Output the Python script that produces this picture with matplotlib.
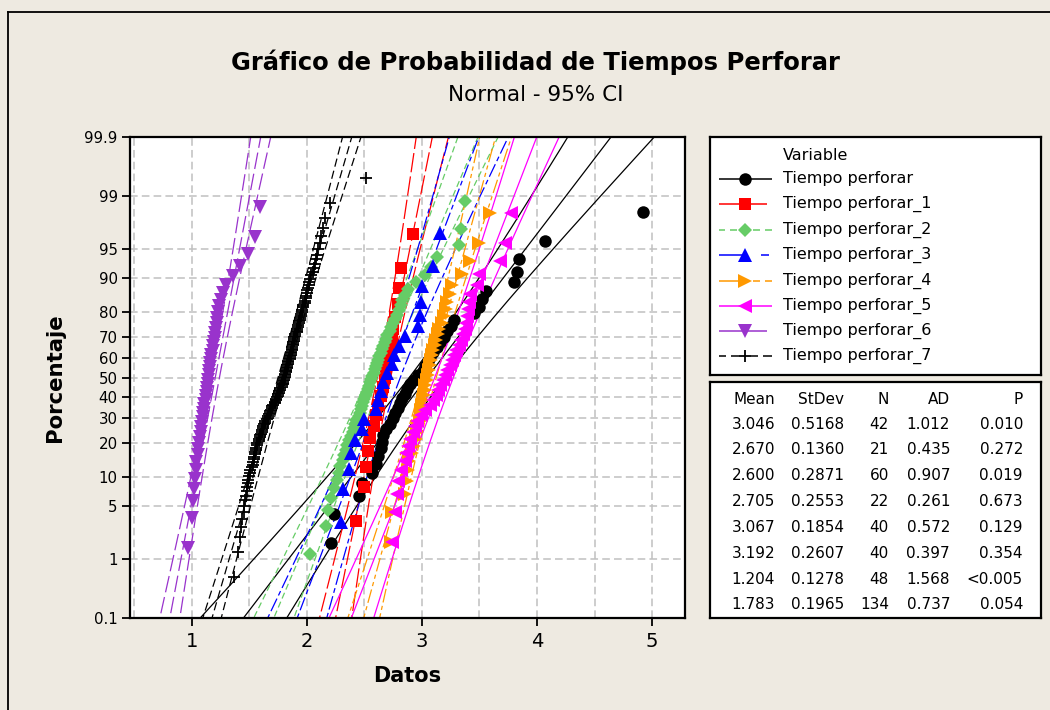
import numpy as np
import matplotlib
matplotlib.use('Agg')
import matplotlib.pyplot as plt
from matplotlib.lines import Line2D

plt.rcParams['font.family'] = ['DejaVu Sans']
plt.rcParams['lines.scale_dashes'] = False

# ---------------- data ----------------
series_names = ['Tiempo perforar', 'Tiempo perforar_1', 'Tiempo perforar_2', 'Tiempo perforar_3',
                'Tiempo perforar_4', 'Tiempo perforar_5', 'Tiempo perforar_6', 'Tiempo perforar_7']

tiempo_perforar = [2.21, 2.24, 2.45, 2.48, 2.57, 2.60, 2.62, 2.64, 2.65, 2.66,
                   2.69, 2.72, 2.75, 2.77, 2.79, 2.81, 2.83, 2.85, 2.87, 2.90,
                   2.93, 2.97, 3.01, 3.03, 3.05, 3.07, 3.10, 3.13, 3.16, 3.19,
                   3.22, 3.25, 3.28, 3.45, 3.50, 3.52, 3.56, 3.80, 3.83, 3.84,
                   4.07, 4.92]
tiempo_perforar_1 = [2.43, 2.50, 2.51, 2.53, 2.55, 2.58, 2.60, 2.62, 2.64, 2.66,
                     2.68, 2.69, 2.71, 2.73, 2.74, 2.75, 2.77, 2.79, 2.80, 2.82, 2.92]
tiempo_perforar_2 = [2.03, 2.17, 2.18, 2.21, 2.24, 2.26, 2.28, 2.29, 2.31, 2.32,
                     2.34, 2.35, 2.37, 2.38, 2.40, 2.41, 2.42, 2.43, 2.45, 2.46,
                     2.47, 2.48, 2.49, 2.50, 2.51, 2.52, 2.53, 2.54, 2.55, 2.56,
                     2.57, 2.58, 2.59, 2.60, 2.61, 2.62, 2.63, 2.64, 2.65, 2.66,
                     2.68, 2.69, 2.70, 2.72, 2.73, 2.75, 2.77, 2.78, 2.80, 2.82,
                     2.83, 2.85, 2.88, 2.95, 3.03, 3.08, 3.13, 3.32, 3.34, 3.37]
tiempo_perforar_3 = [2.30, 2.31, 2.37, 2.38, 2.42, 2.48, 2.50, 2.60, 2.62, 2.64,
                     2.66, 2.70, 2.74, 2.76, 2.80, 2.85, 2.97, 2.98, 2.99, 3.00,
                     3.10, 3.16]
tiempo_perforar_4 = [2.73, 2.74, 2.85, 2.87, 2.88, 2.89, 2.91, 2.93, 2.95, 2.96,
                     2.97, 2.98, 2.99, 2.99, 3.00, 3.01, 3.02, 3.03, 3.03, 3.04,
                     3.05, 3.06, 3.07, 3.08, 3.09, 3.10, 3.11, 3.12, 3.14, 3.15,
                     3.17, 3.19, 3.21, 3.22, 3.24, 3.26, 3.35, 3.42, 3.50, 3.59]
tiempo_perforar_5 = [2.74, 2.77, 2.78, 2.79, 2.82, 2.85, 2.86, 2.88, 2.90, 2.92,
                     2.94, 2.96, 2.99, 3.03, 3.07, 3.10, 3.12, 3.14, 3.16, 3.18,
                     3.20, 3.22, 3.24, 3.26, 3.28, 3.30, 3.32, 3.34, 3.36, 3.37,
                     3.38, 3.39, 3.40, 3.41, 3.42, 3.48, 3.50, 3.68, 3.72, 3.77]
tiempo_perforar_6 = [0.97, 1.00, 1.01, 1.02, 1.03, 1.04, 1.04, 1.05, 1.05, 1.06,
                     1.07, 1.08, 1.08, 1.09, 1.10, 1.10, 1.11, 1.11, 1.12, 1.12,
                     1.13, 1.13, 1.14, 1.14, 1.15, 1.15, 1.16, 1.16, 1.17, 1.17,
                     1.18, 1.18, 1.19, 1.20, 1.20, 1.21, 1.22, 1.22, 1.23, 1.24,
                     1.25, 1.27, 1.30, 1.36, 1.42, 1.49, 1.55, 1.59]
tiempo_perforar_7 = [1.37, 1.40, 1.42, 1.43, 1.44, 1.45, 1.45, 1.46, 1.47, 1.48,
                     1.48, 1.49, 1.49, 1.50, 1.51, 1.51, 1.52, 1.53, 1.53, 1.54,
                     1.54, 1.55, 1.55, 1.56, 1.56, 1.57, 1.57, 1.58, 1.58, 1.59,
                     1.59, 1.60, 1.61, 1.61, 1.62, 1.62, 1.63, 1.64, 1.64, 1.65,
                     1.66, 1.66, 1.67, 1.68, 1.68, 1.69, 1.70, 1.70, 1.71, 1.72,
                     1.72, 1.73, 1.73, 1.74, 1.75, 1.75, 1.76, 1.76, 1.77, 1.77,
                     1.78, 1.78, 1.79, 1.79, 1.79, 1.80, 1.80, 1.81, 1.81, 1.81,
                     1.82, 1.82, 1.82, 1.83, 1.83, 1.83, 1.84, 1.84, 1.84, 1.85,
                     1.85, 1.85, 1.86, 1.86, 1.86, 1.87, 1.87, 1.87, 1.88, 1.88,
                     1.88, 1.89, 1.89, 1.89, 1.90, 1.90, 1.91, 1.91, 1.91, 1.92,
                     1.92, 1.93, 1.93, 1.94, 1.94, 1.95, 1.95, 1.96, 1.96, 1.97,
                     1.97, 1.98, 1.98, 1.99, 1.99, 2.00, 2.00, 2.01, 2.02, 2.02,
                     2.03, 2.04, 2.05, 2.06, 2.07, 2.08, 2.09, 2.10, 2.11, 2.12,
                     2.14, 2.16, 2.20, 2.51]

# summary table (as printed in the chart)
means = [3.046, 2.670, 2.600, 2.705, 3.067, 3.192, 1.204, 1.783]
stdevs = [0.5168, 0.1360, 0.2871, 0.2553, 0.1854, 0.2607, 0.1278, 0.1965]
counts = [42, 21, 60, 22, 40, 40, 48, 134]
ad_values = [1.012, 0.435, 0.907, 0.261, 0.572, 0.397, 1.568, 0.737]
p_values = ['0.010', '0.272', '0.019', '0.673', '0.129', '0.354', '<0.005', '0.054']

percent_ticks = [0.1, 1, 5, 10, 20, 30, 40, 50, 60, 70, 80, 90, 95, 99, 99.9]
x_ticks = [1, 2, 3, 4, 5]

all_data = [tiempo_perforar, tiempo_perforar_1, tiempo_perforar_2, tiempo_perforar_3,
            tiempo_perforar_4, tiempo_perforar_5, tiempo_perforar_6, tiempo_perforar_7]

# ---------------- styles ----------------
BG = '#EEEAE1'
colors = ['#000000', '#FF0000', '#66CC66', '#0000FF', '#FF9900', '#FF00FF', '#9933CC', '#000000']
markers = ['o', 's', 'D', '^', '>', '<', 'v', '+']
msizes = [9.0, 8.0, 7.2, 9.5, 9.5, 9.5, 9.5, 8.0]
linestyles = ['-', (0, (14, 3)), (0, (4.5, 2.5)), (0, (10, 2.5, 3.5, 2.5)),
              (0, (10, 2.5, 3, 2.5, 3, 2.5)), '-', (0, (12, 3.5)), (0, (6, 3))]


def norm_ppf(p):
    p = np.atleast_1d(np.asarray(p, float))
    a = [-3.969683028665376e+01, 2.209460984245205e+02, -2.759285104469687e+02,
         1.383577518672690e+02, -3.066479806614716e+01, 2.506628277459239e+00]
    b = [-5.447609879822406e+01, 1.615858368580409e+02, -1.556989798598866e+02,
         6.680131188771972e+01, -1.328068155288572e+01]
    c = [-7.784894002430293e-03, -3.223964580411365e-01, -2.400758277161838e+00,
         -2.549732539343734e+00, 4.374664141464968e+00, 2.938163982698783e+00]
    d = [7.784695709041462e-03, 3.224671290700398e-01, 2.445134137142996e+00,
         3.754408661907416e+00]
    plow = 0.02425
    out = np.empty_like(p)
    lo = p < plow
    hi = p > 1 - plow
    mid = ~(lo | hi)
    q = np.sqrt(-2 * np.log(p[lo]))
    out[lo] = (((((c[0]*q+c[1])*q+c[2])*q+c[3])*q+c[4])*q+c[5]) / ((((d[0]*q+d[1])*q+d[2])*q+d[3])*q+1)
    q = p[mid] - 0.5
    r = q * q
    out[mid] = (((((a[0]*r+a[1])*r+a[2])*r+a[3])*r+a[4])*r+a[5])*q / (((((b[0]*r+b[1])*r+b[2])*r+b[3])*r+b[4])*r+1)
    q = np.sqrt(-2 * np.log(1 - p[hi]))
    out[hi] = -(((((c[0]*q+c[1])*q+c[2])*q+c[3])*q+c[4])*q+c[5]) / ((((d[0]*q+d[1])*q+d[2])*q+d[3])*q+1)
    return out


W, H = 1050, 710
fig = plt.figure(figsize=(W / 100, H / 100), dpi=100, facecolor=BG)


def fx(px):
    return px / W


def fy(py):
    return 1 - py / H


# main axes
ax = fig.add_axes([fx(130), fy(618), fx(685) - fx(130), fy(137) - fy(618)])
ax.set_facecolor('white')
zlim = float(norm_ppf(0.999)[0])
ax.set_xlim(0.463, 5.286)
ax.set_ylim(-zlim, zlim)

# grid
for xv in np.arange(0.5, 5.01, 0.5):
    ax.axvline(xv, color='#C0C0C0', lw=1.1, ls=(0, (5.5, 3)), zorder=0.5)
for pt in percent_ticks[1:-1]:
    ax.axhline(norm_ppf(pt / 100)[0], color='#C0C0C0', lw=1.1, ls=(0, (5.5, 3)), zorder=0.5)

# fitted lines and 95% CI
zz = np.linspace(-3.3, 3.3, 300)
for i in range(8):
    mu, sd, n = means[i], stdevs[i], counts[i]
    center = mu + zz * sd
    half = 1.96 * sd * np.sqrt((1 + zz ** 2 / 2) / n)
    for xs in (center - half, center, center + half):
        ax.plot(xs, zz, color=colors[i], lw=0.9, ls=linestyles[i], zorder=2)

# data points (Benard median ranks)
for i, vals in enumerate(all_data):
    v = np.sort(np.asarray(vals, float))
    n = len(v)
    pp = (np.arange(1, n + 1) - 0.3) / (n + 0.4)
    z = norm_ppf(pp)
    if markers[i] == '+':
        ax.plot(v, z, ls='none', marker='+', ms=msizes[i], mew=1.3, color=colors[i], zorder=3)
    else:
        ax.plot(v, z, ls='none', marker=markers[i], ms=msizes[i], mew=0, color=colors[i], zorder=3)

ax.set_yticks(norm_ppf(np.array(percent_ticks) / 100))
ax.set_yticklabels([('%g' % t) for t in percent_ticks])
ax.set_xticks(x_ticks)
ax.set_xticklabels([str(t) for t in x_ticks])
ax.tick_params(axis='y', direction='out', length=6, width=1.3, labelsize=10.8, pad=3)
ax.tick_params(axis='x', direction='out', length=6, width=1.3, labelsize=14, pad=4)
for s in ax.spines.values():
    s.set_linewidth(1.6)

# titles and labels
fig.text(fx(535), fy(62), 'Gráfico de Probabilidad de Tiempos Perforar', ha='center', va='center',
         fontsize=17.5, fontweight='bold')
fig.text(fx(536), fy(95), 'Normal - 95% CI', ha='center', va='center', fontsize=15.5)
fig.text(fx(55), fy(378), 'Porcentaje', rotation=90, ha='center', va='center', fontsize=15.3,
         fontweight='bold')
fig.text(fx(407), fy(676), 'Datos', ha='center', va='center', fontsize=15, fontweight='bold')

# ---------------- legend box ----------------
lax = fig.add_axes([fx(710), fy(375), fx(1041) - fx(710), fy(137) - fy(375)])
lax.set_xlim(710, 1041)
lax.set_ylim(375, 137)
lax.set_xticks([])
lax.set_yticks([])
lax.set_facecolor('white')
for s in lax.spines.values():
    s.set_linewidth(1.6)
lax.text(783, 155, 'Variable', ha='left', va='center', fontsize=11.5)
row_y = [179, 204, 229.5, 255, 280.5, 305.5, 330.5, 356]
legend_segments = [
    [(719, 772, '-')],
    [(719, 767, '-')],
    [(719, 725, '-'), (730, 737, '-'), (753, 760, '-'), (765, 772, '-')],
    [(719, 745, '-'), (761, 769, '-')],
    [(719, 745, '-'), (753, 760, '-'), (765, 772, '-')],
    [(719, 772, '-')],
    [(719, 767, '-')],
    [(719, 726, '-'), (731, 739, '-'), (751, 758, '-'), (763, 772, '-')],
]
for i in range(8):
    y = row_y[i]
    for (x0, x1, st) in legend_segments[i]:
        lax.plot([x0, x1], [y, y], color=colors[i], lw=1.1, ls=st, solid_capstyle='butt')
    if markers[i] == '+':
        lax.plot([745], [y], marker='+', ms=msizes[i], mew=1.3, color=colors[i])
    else:
        lax.plot([745], [y], marker=markers[i], ms=msizes[i], mew=0, color=colors[i])
    lax.text(783, y, series_names[i], ha='left', va='center', fontsize=11.5)

# ---------------- statistics table ----------------
tax = fig.add_axes([fx(710), fy(618), fx(1041) - fx(710), fy(382) - fy(618)])
tax.set_xlim(710, 1041)
tax.set_ylim(618, 382)
tax.set_xticks([])
tax.set_yticks([])
tax.set_facecolor('white')
for s in tax.spines.values():
    s.set_linewidth(1.6)
col_x = [775, 844, 889, 950, 1023]
headers = ['Mean', 'StDev', 'N', 'AD', 'P']
for cx, h in zip(col_x, headers):
    tax.text(cx, 399, h, ha='right', va='center', fontsize=11)
table_y = [424.5, 450, 476, 502, 527.5, 553, 579, 604.5]
for i in range(8):
    y = table_y[i]
    cells = ['%.3f' % means[i], '%.4f' % stdevs[i], '%d' % counts[i], '%.3f' % ad_values[i], p_values[i]]
    for cx, t in zip(col_x, cells):
        tax.text(cx, y, t, ha='right', va='center', fontsize=11)

# outer frame lines
fig.add_artist(Line2D([fx(8), fx(8)], [0, fy(12)], transform=fig.transFigure, color='black', lw=1.3))
fig.add_artist(Line2D([fx(8), 1], [fy(12), fy(12)], transform=fig.transFigure, color='black', lw=1.3))

fig.savefig('out.png', dpi=100, facecolor=BG)
